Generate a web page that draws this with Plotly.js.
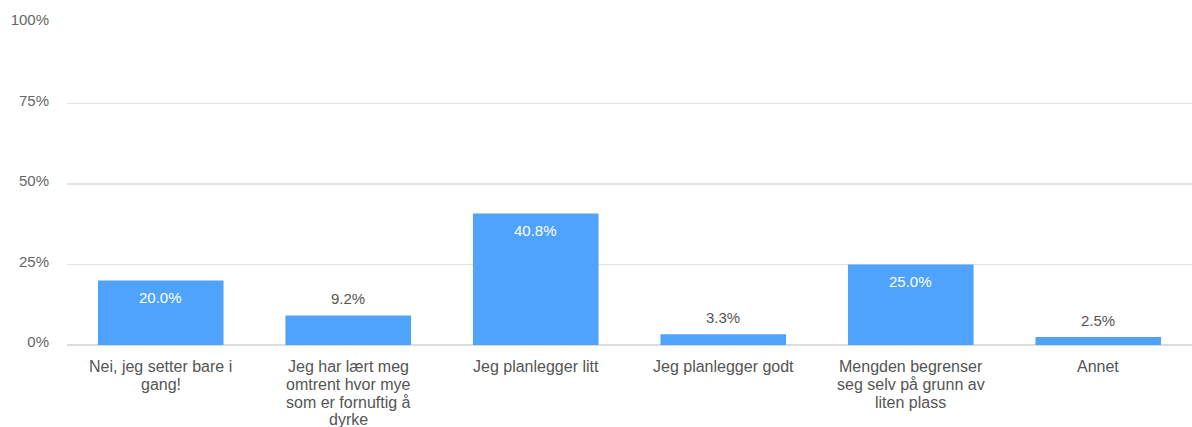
<!DOCTYPE html>
<html>
<head>
<meta charset="utf-8">
<script src="https://cdn.plot.ly/plotly-3.0.1.min.js"></script>
<style>html,body{margin:0;padding:0;background:#fff;}#chart{width:1192px;height:427px;}</style>
</head>
<body>
<div id="chart"></div>
<script>
const categories = [
  "Nei, jeg setter bare i gang!",
  "Jeg har lært meg omtrent hvor mye som er fornuftig å dyrke",
  "Jeg planlegger litt",
  "Jeg planlegger godt",
  "Mengden begrenser seg selv på grunn av liten plass",
  "Annet"
];
const categoryLines = [
  ["Nei, jeg setter bare i", "gang!"],
  ["Jeg har lært meg", "omtrent hvor mye", "som er fornuftig å", "dyrke"],
  ["Jeg planlegger litt"],
  ["Jeg planlegger godt"],
  ["Mengden begrenser", "seg selv på grunn av", "liten plass"],
  ["Annet"]
];
const values = [20.0, 9.2, 40.8, 3.3, 25.0, 2.5];
const yTickVals = [0, 25, 50, 75, 100];
const yTickText = ["0%", "25%", "50%", "75%", "100%"];

const FONT = 'Liberation Sans, Arial, sans-serif';
const annotations = [];
categories.forEach((c, i) => {
  const inside = values[i] >= 15;
  annotations.push({
    x: c, y: values[i], xref: 'x', yref: 'y',
    text: values[i].toFixed(1) + '%',
    showarrow: false,
    yanchor: inside ? 'top' : 'bottom',
    yshift: inside ? -6 : 6,
    font: {family: FONT, size: 15, color: inside ? '#ffffff' : '#555555'}
  });
  categoryLines[i].forEach((line, k) => {
    annotations.push({
      x: c, y: 0, xref: 'x', yref: 'paper',
      text: line, showarrow: false,
      xanchor: 'center', yanchor: 'top',
      yshift: -11 - k * 17.8,
      font: {family: FONT, size: 16, color: '#555555'}
    });
  });
});

const data = [{
  type: 'bar',
  x: categories,
  y: values,
  marker: {color: '#4fa3fd'},
  hoverinfo: 'skip'
}];

const layout = {
  width: 1192, height: 427,
  margin: {l: 67, r: 0, t: 23, b: 82},
  paper_bgcolor: '#ffffff', plot_bgcolor: '#ffffff',
  bargap: 0.33,
  showlegend: false,
  font: {family: FONT, size: 15, color: '#555555'},
  xaxis: {
    type: 'category',
    showgrid: false, showline: false, zeroline: false,
    ticks: '', showticklabels: false,
    automargin: false
  },
  yaxis: {
    range: [0, 100],
    tickvals: yTickVals, ticktext: yTickText,
    showgrid: true, gridcolor: '#e2e2e2', gridwidth: 1.5,
    zeroline: true, zerolinecolor: '#dddddd', zerolinewidth: 1.5,
    showline: false, ticks: '', ticklabelstandoff: 17, ticklabelshift: -3,
    tickfont: {family: FONT, size: 15, color: '#666666'},
    automargin: false
  },
  annotations: annotations
};

Plotly.newPlot('chart', data, layout, {displayModeBar: false, staticPlot: true});
</script>
</body>
</html>
